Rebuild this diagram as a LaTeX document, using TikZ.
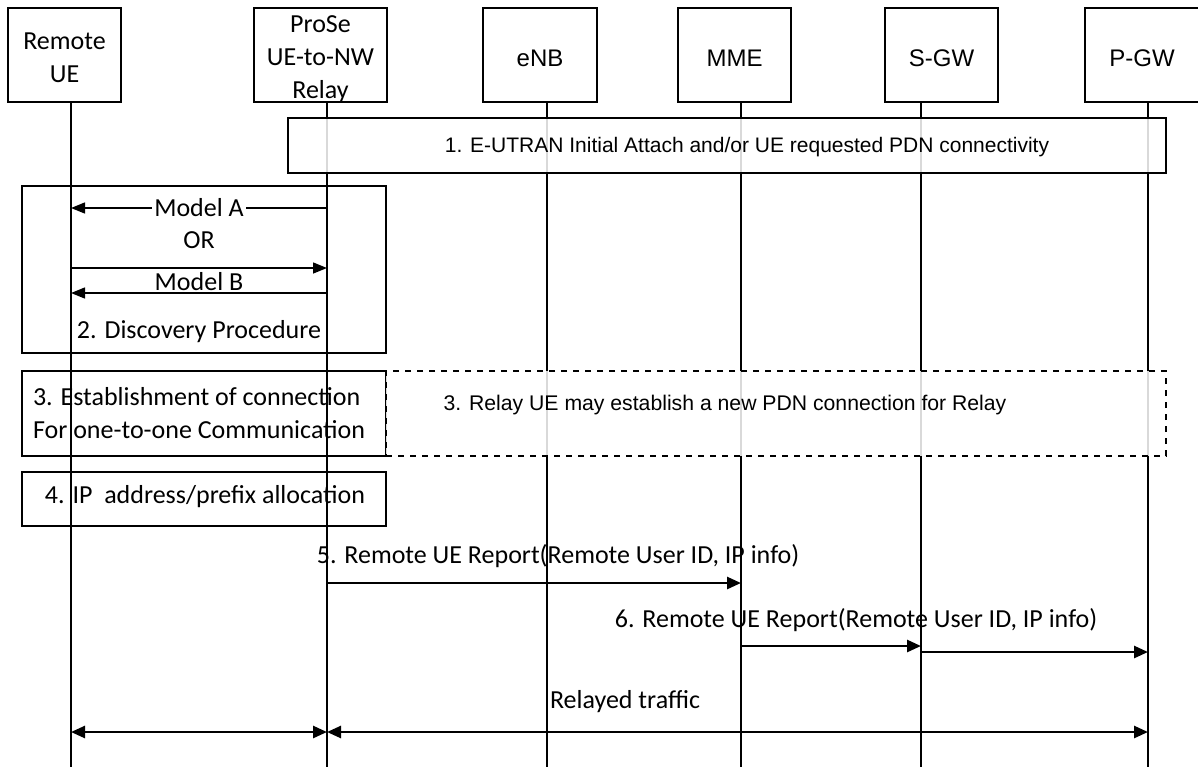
\documentclass[tikz,border=0pt]{standalone}
\usepackage{fontspec}
\setmainfont{Carlito}
\newfontfamily\arialfont{Liberation Sans}
\usetikzlibrary{positioning,arrows.meta}

\begin{document}
\begin{tikzpicture}[x=0.5pt,y=-0.5pt,
  ent/.style={draw, line width=0.7pt, minimum height=47pt, inner sep=0pt, align=center},
  calfont/.style={font=\fontsize{13}{15.5}\selectfont},
  headfont/.style={font=\fontsize{13}{16.5}\selectfont},
  arfont/.style={font=\arialfont\fontsize{12}{14}\selectfont},
  life/.style={line width=0.7pt},
  phase/.style={draw, line width=0.7pt, inner sep=0pt},
  shade/.style={fill=white, fill opacity=0.85, text opacity=1},
  disc/.style={line width=0.7pt, -{Triangle[length=7pt,width=5.5pt]}},
  msg/.style={line width=1.3pt, -{Triangle[length=7pt,width=6pt]}},
  both/.style={line width=1.3pt, {Triangle[length=7pt,width=6pt]}-{Triangle[length=7pt,width=6pt]}}]
  \useasboundingbox (0,0) rectangle (1198,767);

  % entities
  \node[ent, headfont, minimum width=56.5pt] (ue) at (64.5,55) {};
  \node[headfont, align=center] (uetxt) at (64.5,58) {Remote\\UE};
  \node[ent, headfont, minimum width=66.5pt] (relay) at (320.5,55) {};
  \node[headfont, align=center] (relaytxt) at (320.5,59) {ProSe\\UE-to-NW\\Relay};
  \node[ent, arfont, minimum width=57pt] (enb) at (540,55) {};
  \node[arfont] (enbtxt) at (540,58) {eNB};
  \node[ent, arfont, minimum width=56.5pt] (mme) at (734.5,55) {};
  \node[arfont] (mmetxt) at (734.5,58) {MME};
  \node[ent, arfont, minimum width=56.5pt] (sgw) at (941.5,55) {};
  \node[arfont] (sgwtxt) at (941.5,58) {S-GW};
  \node[ent, arfont, minimum width=57pt] (pgw) at (1142,55) {};
  \node[arfont] (pgwtxt) at (1142,58) {P-GW};

  % lifelines
  \foreach \n/\x in {ue/71, relay/327, enb/547, mme/741, sgw/921, pgw/1148} {
    \coordinate (\n-end) at (\x,767);
    \draw[life] (\n-end |- \n.south) -- (\n-end);
  }

  % 1. attach
  \node[phase, shade, minimum width=439pt, minimum height=27.5pt] (attach) at (727,145.5) {};
  \node[font=\arialfont\fontsize{10.5}{12}\selectfont] (attachtxt) at (747,147) {1. E-UTRAN Initial Attach and/or UE requested PDN connectivity};

  % 2. discovery
  \node[phase, minimum width=182pt, minimum height=83.5pt] (discbox) at (204,269.5) {};
  \draw[disc] (relay-end |- 0,208) -- node[calfont, fill=white, inner sep=1pt] (modela) {Model A} (ue-end |- 0,208);
  \node[calfont] (or) at (199,240) {OR};
  \draw[disc] (ue-end |- 0,268) -- (relay-end |- 0,268);
  \draw[disc] (relay-end |- 0,293) -- (ue-end |- 0,293);
  \node[calfont] (modelb) at (199,282) {Model B};
  \node[calfont] (disctxt) at (199,332) {2. Discovery Procedure};

  % 3. connection
  \node[phase, minimum width=182pt, minimum height=42.5pt] (pc5) at (204,413.5) {};
  \node[calfont, align=left, anchor=west, font=\fontsize{13}{16.5}\selectfont] (pc5txt) at (26,413.5) {3. Establishment of connection\\For one-to-one Communication};
  \node[phase, shade, dashed, minimum width=390pt, minimum height=42.5pt] (pdn) at (776,413.5) {};
  \node[font=\arialfont\fontsize{10.6}{12}\selectfont] (pdntxt) at (725,405) {3. Relay UE may establish a new PDN connection for Relay};

  % 4. IP allocation
  \node[phase, minimum width=182pt, minimum height=27pt] (ipalloc) at (204,499) {};
  \node[calfont] (iptxt) at (205,497) {4. IP\ \ address/prefix allocation};

  % 5./6. reports
  \node[calfont] (rep5) at (558,556) {5. Remote UE Report(Remote User ID, IP info)};
  \draw[msg] (relay-end |- 0,583) -- (mme-end |- 0,583);
  \node[calfont] (rep6) at (856,620) {6. Remote UE Report(Remote User ID, IP info)};
  \draw[msg] (mme-end |- 0,646) -- (sgw-end |- 0,646);
  \draw[msg] (sgw-end |- 0,652) -- (pgw-end |- 0,652);

  % relayed traffic
  \node[calfont] (traffic) at (625,702) {Relayed traffic};
  \draw[both] (ue-end |- 0,732) -- (relay-end |- 0,732);
  \draw[both] (relay-end |- 0,732) -- (pgw-end |- 0,732);
\end{tikzpicture}
\end{document}
